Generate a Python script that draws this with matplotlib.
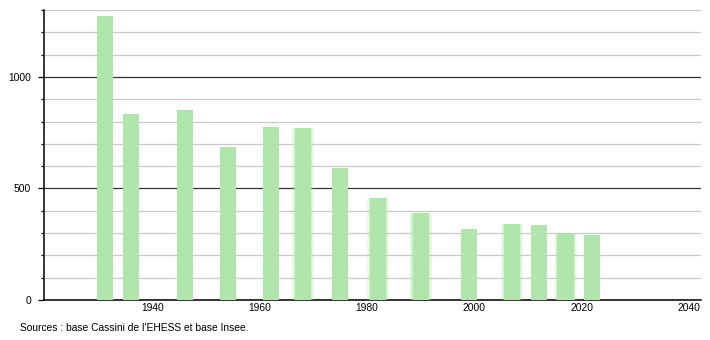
import numpy as np
import matplotlib
matplotlib.use('Agg')
import matplotlib.pyplot as plt
from matplotlib.ticker import MultipleLocator

#%% Data
years = [1931, 1936, 1946, 1954, 1962, 1968, 1975, 1982, 1990, 1999, 2007, 2012, 2017, 2022]
population = [1274, 834, 852, 687, 774, 770, 593, 457, 390, 318, 342, 336, 296, 293]
xticks = [1940, 1960, 1980, 2000, 2020, 2040]
source = "Sources : base Cassini de l'EHESS et base Insee."

# bars that look soft-edged in the original
blurred = [1968, 1982, 1990, 2007, 2017]

#%% Plot
plt.rcParams['font.family'] = ['Liberation Sans', 'DejaVu Sans']
fig = plt.figure(figsize=(7.1, 3.4), dpi=100)
ax = fig.add_axes([0.0613, 0.1176, 0.9261, 0.8530])

bar_color = '#b0e5ab'
soft_x = [y for y in years if y in blurred]
soft_h = [p for y, p in zip(years, population) if y in blurred]
for w, a in [(4.0, 0.25), (3.5, 0.4)]:
    ax.bar(soft_x, soft_h, width=w, color=bar_color, alpha=a, zorder=3, linewidth=0)
ax.bar(years, population, width=3, color=bar_color, zorder=4, linewidth=0)

ax.set_xlim(1919.6, 2042.3)
ax.set_ylim(0, 1300)

# grid: light every 100, dark every 500
ax.yaxis.set_major_locator(MultipleLocator(500))
ax.yaxis.set_minor_locator(MultipleLocator(100))
ax.grid(axis='y', which='minor', color='#cacaca', linewidth=0.9, zorder=1)
ax.grid(axis='y', which='major', color='#333333', linewidth=0.9, zorder=2)
ax.axhline(1300, color='#cacaca', linewidth=0.9, zorder=1)

ax.set_xticks(xticks)
ax.tick_params(axis='x', length=0, pad=2, labelsize=7.4)
ax.tick_params(axis='y', which='major', length=4, width=0.9, pad=5, labelsize=7.4)
ax.tick_params(axis='y', which='minor', length=2, width=0.9)

for s in ['top', 'right']:
    ax.spines[s].set_visible(False)
ax.spines['left'].set_linewidth(1.1)
ax.spines['bottom'].set_linewidth(1.1)

fig.text(20 / 710, 1 - 328 / 340, source, fontsize=7.4, va='center', ha='left')

fig.savefig('out.png', dpi=100)
